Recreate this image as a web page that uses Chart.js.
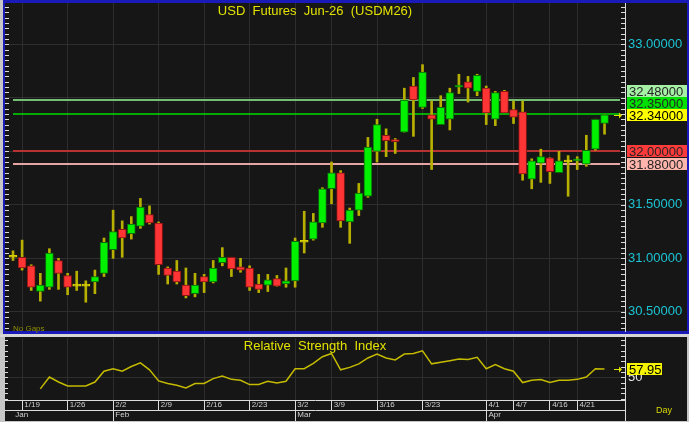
<!DOCTYPE html>
<html>
<head>
<meta charset="utf-8">
<script src="https://cdn.jsdelivr.net/npm/chart.js@4.4.1/dist/chart.umd.min.js"></script>
<style>
  html, body { margin: 0; padding: 0; background: #c6c6c6; }
  #wrap { position: relative; width: 689px; height: 422px; overflow: hidden; }
  #price { position: absolute; left: 0; top: 0; }
  #rsi { position: absolute; left: 0; top: 337px; }
</style>
</head>
<body>
<div id="wrap">
  <canvas id="price" width="689" height="337"></canvas>
  <canvas id="rsi" width="689" height="85"></canvas>
</div>
<script>
// one label per trading bar
const dates = [
  "1/16",
  "1/19", "1/20", "1/21", "1/22", "1/23",
  "1/26", "1/27", "1/28", "1/29", "1/30",
  "2/2", "2/3", "2/4", "2/5", "2/6",
  "2/9", "2/10", "2/11", "2/12", "2/13",
  "2/16", "2/17", "2/18", "2/19", "2/20",
  "2/23", "2/24", "2/25", "2/26", "2/27",
  "3/2", "3/3", "3/4", "3/5",
  "3/9", "3/10", "3/11", "3/12", "3/13",
  "3/16", "3/17", "3/18", "3/19", "3/20",
  "3/23", "3/24", "3/25", "3/26", "3/27", "3/30", "3/31",
  "4/1", "4/2", "4/6",
  "4/7", "4/8", "4/9", "4/10",
  "4/16", "4/17", "4/20",
  "4/21", "4/22", "4/23", "4/24",
];

const opens = [
  31.01, 31.01, 30.93, 30.69, 30.73, 30.98, 30.84, 30.74, 30.74, 30.78,
  30.86, 31.08, 31.27, 31.23, 31.30, 31.41, 31.33, 30.91, 30.88, 30.75,
  30.67, 30.83, 30.78, 30.96, 31.01, 30.92, 30.91, 30.76, 30.75, 30.81,
  30.76, 30.79, 31.15, 31.18, 31.33, 31.65, 31.80, 31.34, 31.45, 31.58,
  32.00, 32.15, 32.11, 32.18, 32.61, 32.41, 32.34, 32.25, 32.30, 32.60,
  32.65, 32.56, 32.59, 32.30, 32.56, 32.39, 32.37, 31.74, 31.89, 31.94,
  31.80, 31.90, 31.91, 31.88, 32.02, 32.26,
];

const highs = [
  31.07, 31.17, 30.94, 30.86, 31.09, 31.00, 30.86, 30.88, 30.79, 30.89,
  31.19, 31.45, 31.35, 31.39, 31.56, 31.49, 31.34, 30.92, 30.98, 30.91,
  30.86, 30.85, 30.98, 31.10, 31.01, 31.00, 30.93, 30.85, 30.85, 30.84,
  30.91, 31.19, 31.44, 31.42, 31.66, 31.90, 31.82, 31.47, 31.70, 32.13,
  32.30, 32.21, 32.12, 32.59, 32.69, 32.81, 32.47, 32.52, 32.59, 32.72,
  32.70, 32.72, 32.61, 32.56, 32.57, 32.47, 32.47, 31.93, 32.02, 31.94,
  32.00, 31.96, 31.95, 32.15, 32.30, 32.34,
];

const lows = [
  30.98, 30.89, 30.70, 30.60, 30.71, 30.71, 30.66, 30.70, 30.59, 30.67,
  30.83, 31.00, 31.01, 31.18, 31.28, 31.32, 30.85, 30.76, 30.76, 30.63,
  30.64, 30.68, 30.77, 30.93, 30.83, 30.87, 30.70, 30.68, 30.69, 30.74,
  30.73, 30.73, 31.05, 31.17, 31.29, 31.51, 31.29, 31.14, 31.40, 31.57,
  31.90, 31.95, 31.98, 32.18, 32.14, 32.40, 31.83, 32.25, 32.20, 32.54,
  32.46, 32.52, 32.25, 32.24, 32.36, 32.26, 31.73, 31.65, 31.71, 31.70,
  31.80, 31.58, 31.83, 31.86, 32.01, 32.16,
];

const closes = [
  31.01, 30.91, 30.73, 30.75, 31.05, 30.86, 30.73, 30.74, 30.74, 30.83,
  31.15, 31.25, 31.19, 31.32, 31.48, 31.33, 30.94, 30.84, 30.78, 30.65,
  30.75, 30.78, 30.91, 31.01, 30.90, 30.89, 30.73, 30.71, 30.80, 30.74,
  30.79, 31.16, 31.15, 31.34, 31.65, 31.80, 31.35, 31.45, 31.61, 32.04,
  32.25, 32.10, 32.09, 32.48, 32.48, 32.74, 32.30, 32.41, 32.55, 32.62,
  32.59, 32.71, 32.36, 32.55, 32.36, 32.32, 31.79, 31.91, 31.95, 31.81,
  31.91, 31.90, 31.92, 32.01, 32.30, 32.34,
];

const rsi = [
  null, null, null, 39.2, 50.3, 45.6, 41.9, 41.9, 41.9, 45.6,
  55.8, 58.1, 55.8, 60.2, 63.6, 57.1, 46.6, 44.2, 42.6, 40.1,
  44.2, 44.2, 48.8, 51.2, 48.1, 47.2, 43.2, 43.2, 46.3, 44.7,
  46.3, 58.1, 58.1, 63.2, 69.4, 72.5, 57.1, 59.4, 62.7, 68.2,
  71.9, 68.2, 66.4, 71.9, 72.5, 75.0, 62.7, 64.2, 65.7, 67.3,
  66.7, 68.8, 58.1, 62.0, 58.1, 55.8, 45.1, 47.2, 47.9, 45.1,
  47.2, 47.2, 48.1, 50.3, 58.1, 57.95,
];

const dateTicks = ["1/19", "1/26", "2/2", "2/9", "2/16", "2/23", "3/2", "3/9", "3/16", "3/23", "4/1", "4/7", "4/16", "4/21"];
const monthNames = ["Jan", "Feb", "Mar", "Apr"];
const monthStarts = ["1/16", "2/2", "3/2", "4/1"];
const priceTicks = [30.5, 31.0, 31.5, 32.0, 32.5, 33.0];
const levels = [32.48, 32.35, 32.0, 31.88];
const rsiTicks = [50];

const titulo = "USD  Futures  Jun-26  (USDM26)";
const tituloRsi = "Relative  Strength  Index";

// estilos
const verde = "#00f000";
const rojo = "#ff3434";
const mecha = "#b8b000";
const amarillo = "#e2e200";
const fondo = "#161616";
const rejilla = "#2e2e2e";
const blanco = "#dcdcdc";
const lineaNivel = ["#74bd74", "#00dd00", "#b83232", "#e6a4a4"];
const cajaNivel = ["#a6f0a6", "#00e000", "#ff3a3a", "#ffb4ac"];
const fuente = '"Liberation Sans", Arial, sans-serif';

const xMin = -0.88;
const xMax = 67.25;

const tickIdx = dateTicks.map((d) => dates.indexOf(d));
const monthIdx = monthStarts.map((d) => dates.indexOf(d));
const ultimo = closes[closes.length - 1];

function colorVela(i) {
  if (closes[i] > opens[i]) return verde;
  if (closes[i] < opens[i]) return rojo;
  return "#d8d000";
}

function bordeVela(i) {
  if (closes[i] > opens[i]) return "#0a6a0a";
  if (closes[i] < opens[i]) return "#8a1414";
  return "#d8d000";
}

// sin relleno extra de las etiquetas
function sinRelleno(s) {
  s.paddingTop = 0;
  s.paddingBottom = 0;
  s.paddingLeft = 0;
  s.paddingRight = 0;
}

function ticksMenores(ctx, scale, paso, x1, x2) {
  ctx.strokeStyle = blanco;
  ctx.lineWidth = 1;
  let v = Math.ceil(scale.min / paso) * paso;
  for (; v <= scale.max + 1e-9; v += paso) {
    let y = Math.round(scale.getPixelForValue(v)) + 0.5;
    ctx.beginPath();
    ctx.moveTo(x1, y);
    ctx.lineTo(x2, y);
    ctx.stroke();
  }
}

function flecha(ctx, x, y) {
  ctx.strokeStyle = amarillo;
  ctx.fillStyle = amarillo;
  ctx.lineWidth = 1;
  ctx.beginPath();
  ctx.moveTo(x - 6, y + 0.5);
  ctx.lineTo(x, y + 0.5);
  ctx.stroke();
  ctx.beginPath();
  ctx.moveTo(x + 2, y + 0.5);
  ctx.lineTo(x - 1, y - 2.5);
  ctx.lineTo(x - 1, y + 3.5);
  ctx.closePath();
  ctx.fill();
}

function caja(ctx, texto, x, y, w, h, bg, color) {
  ctx.fillStyle = bg;
  ctx.fillRect(x, Math.round(y - h / 2), w, h);
  ctx.fillStyle = color;
  ctx.textAlign = "left";
  ctx.textBaseline = "middle";
  ctx.fillText(texto, x + 2, Math.round(y) + 1);
}

const marcoPrecio = {
  id: "marcoPrecio",
  beforeDraw(chart) {
    const ctx = chart.ctx;
    ctx.save();
    ctx.fillStyle = "#c6c6c6";
    ctx.fillRect(0, 0, chart.width, chart.height);
    ctx.fillStyle = "#d6d6d6";
    ctx.fillRect(0, 334, chart.width, 3);
    ctx.fillStyle = "#1a1ab8";
    ctx.fillRect(3, 0, 686, 334);
    ctx.fillStyle = fondo;
    ctx.fillRect(5, 3, 682, 328);
    ctx.restore();
  },
  beforeDatasetsDraw(chart) {
    const ctx = chart.ctx;
    const x = chart.scales.x;
    const y = chart.scales.y;
    const a = chart.chartArea;
    ctx.save();
    let x0 = x.getPixelForValue(0);
    levels.forEach((v, k) => {
      let py = Math.round(y.getPixelForValue(v));
      ctx.strokeStyle = lineaNivel[k];
      ctx.lineWidth = k === 1 ? 1.5 : 2;
      ctx.beginPath();
      ctx.moveTo(x0, py);
      ctx.lineTo(a.right - 5, py);
      ctx.stroke();
    });
    ctx.restore();
  },
  afterDraw(chart) {
    const ctx = chart.ctx;
    const y = chart.scales.y;
    const a = chart.chartArea;
    ctx.save();

    ticksMenores(ctx, y, 0.05, a.left, a.left + 4);
    ticksMenores(ctx, y, 0.05, a.right - 4, a.right);

    ctx.font = "13px " + fuente;
    ctx.fillStyle = amarillo;
    ctx.textAlign = "center";
    ctx.textBaseline = "middle";
    ctx.fillText(titulo, (a.left + a.right) / 2, 11);

    ctx.font = "8px " + fuente;
    ctx.fillStyle = "#8e8e00";
    ctx.textAlign = "left";
    ctx.fillText("No Gaps", 13, 329);

    // cajas de la escala, apiladas alrededor del ultimo precio
    let items = levels.map((v, k) => ({ v: v, bg: cajaNivel[k], ultimo: false }));
    items.push({ v: ultimo, bg: "#ffff00", ultimo: true });
    items.sort((p, q) => q.v - p.v);
    items.forEach((it) => (it.py = y.getPixelForValue(it.v)));
    let h = 12;
    let k = items.findIndex((it) => it.ultimo);
    for (let j = k - 1; j >= 0; j--) {
      items[j].py = Math.min(items[j].py, items[j + 1].py - h);
    }
    for (let j = k + 1; j < items.length; j++) {
      items[j].py = Math.max(items[j].py, items[j - 1].py + h);
    }
    ctx.font = "13px " + fuente;
    items.forEach((it) => {
      caja(ctx, it.v.toFixed(5), 627, it.py, 60, h, it.bg, it.ultimo ? "#000000" : "#262626");
    });

    flecha(ctx, a.right - 5, Math.round(y.getPixelForValue(ultimo)));
    ctx.restore();
  },
};

new Chart(document.getElementById("price"), {
  type: "bar",
  data: {
    datasets: [
      {
        label: "cuerpo",
        data: opens.map((o, i) => ({ x: i, y: [o, closes[i]] })),
        backgroundColor: opens.map((o, i) => colorVela(i)),
        borderColor: opens.map((o, i) => bordeVela(i)),
        borderWidth: 1,
        borderSkipped: false,
        barThickness: 8,
        minBarLength: 2,
        grouped: false,
        order: 0,
      },
      {
        label: "mecha",
        data: lows.map((l, i) => ({ x: i, y: [l, highs[i]] })),
        backgroundColor: mecha,
        borderWidth: 0,
        barThickness: 2,
        grouped: false,
        order: 1,
      },
    ],
  },
  options: {
    responsive: false,
    animation: false,
    events: [],
    layout: { padding: { left: 5, top: 3, right: 0, bottom: 6 } },
    plugins: { legend: { display: false }, tooltip: { enabled: false } },
    scales: {
      x: {
        type: "linear",
        min: xMin,
        max: xMax,
        offset: false,
        afterBuildTicks: (s) => {
          s.ticks = tickIdx.map((v) => ({ value: v }));
        },
        afterFit: (s) => {
          s.height = 0;
          sinRelleno(s);
        },
        ticks: { display: false },
        grid: { color: rejilla, drawTicks: false, offset: false },
        border: { display: false },
      },
      y: {
        position: "right",
        min: 30.321,
        max: 33.386,
        afterBuildTicks: (s) => {
          s.ticks = priceTicks.map((v) => ({ value: v }));
        },
        afterFit: (s) => {
          s.width = 64;
          sinRelleno(s);
        },
        ticks: {
          color: "#1cc4d4",
          font: { size: 13, family: fuente },
          padding: 3,
          callback: (v) => (levels.some((l) => Math.abs(l - v) < 0.06) ? "" : Number(v).toFixed(5)),
        },
        grid: { color: rejilla, drawTicks: false },
        border: { display: true, color: blanco },
      },
    },
  },
  plugins: [marcoPrecio],
});

const marcoRsi = {
  id: "marcoRsi",
  beforeDraw(chart) {
    const ctx = chart.ctx;
    ctx.save();
    ctx.fillStyle = "#c6c6c6";
    ctx.fillRect(0, 0, chart.width, chart.height);
    ctx.fillStyle = fondo;
    ctx.fillRect(5, 0, 682, 84);
    ctx.restore();
  },
  afterDraw(chart) {
    const ctx = chart.ctx;
    const y = chart.scales.y;
    const a = chart.chartArea;
    ctx.save();

    ticksMenores(ctx, y, 5, a.left, a.left + 3);
    ticksMenores(ctx, y, 5, a.right - 4, a.right);

    ctx.strokeStyle = blanco;
    ctx.beginPath();
    ctx.moveTo(a.right + 0.5, 0);
    ctx.lineTo(a.right + 0.5, 84);
    ctx.stroke();

    ctx.font = "13px " + fuente;
    ctx.fillStyle = amarillo;
    ctx.textAlign = "center";
    ctx.textBaseline = "middle";
    ctx.fillText(tituloRsi, (a.left + a.right) / 2, 9);

    let ult = rsi[rsi.length - 1];
    let py = y.getPixelForValue(ult);
    caja(ctx, ult.toFixed(2), 627, py, 35, 12, "#f4f400", "#000000");
    flecha(ctx, a.right - 5, Math.round(py));

    ctx.font = "9px " + fuente;
    ctx.fillStyle = "#d8d800";
    ctx.textAlign = "left";
    ctx.fillText("Day", 656, 74);
    ctx.restore();
  },
};

new Chart(document.getElementById("rsi"), {
  type: "line",
  data: {
    datasets: [
      {
        label: "RSI",
        data: rsi.map((v, i) => ({ x: i, y: v })),
        borderColor: "#c4ba00",
        borderWidth: 1.5,
        pointRadius: 0,
        tension: 0,
        spanGaps: false,
      },
    ],
  },
  options: {
    responsive: false,
    animation: false,
    events: [],
    layout: { padding: { left: 5, top: 1, right: 0, bottom: 1 } },
    plugins: { legend: { display: false }, tooltip: { enabled: false } },
    scales: {
      x: {
        type: "linear",
        position: "bottom",
        min: xMin,
        max: xMax,
        afterBuildTicks: (s) => {
          s.ticks = tickIdx.map((v) => ({ value: v }));
        },
        afterFit: (s) => {
          s.height = 10;
          sinRelleno(s);
        },
        ticks: {
          color: "#d0d0d0",
          font: { size: 8, family: fuente },
          align: "start",
          padding: -10,
          maxRotation: 0,
          minRotation: 0,
          autoSkip: false,
          callback: (v) => " " + dates[v],
        },
        grid: { color: rejilla, drawTicks: true, tickLength: 10, tickColor: blanco },
        border: { display: true, color: blanco },
      },
      x2: {
        type: "linear",
        position: "bottom",
        min: xMin,
        max: xMax,
        afterBuildTicks: (s) => {
          s.ticks = monthIdx.map((v) => ({ value: v }));
        },
        afterFit: (s) => {
          s.height = 11;
          sinRelleno(s);
        },
        ticks: {
          color: "#d0d0d0",
          font: { size: 8, family: fuente },
          align: "start",
          padding: -11,
          maxRotation: 0,
          minRotation: 0,
          autoSkip: false,
          callback: (v) => " " + monthNames[monthIdx.indexOf(v)],
        },
        grid: {
          drawOnChartArea: false,
          drawTicks: true,
          tickLength: 11,
          tickColor: (c) => (c.index === 0 ? "rgba(0,0,0,0)" : blanco),
        },
        border: { display: true, color: blanco },
      },
      y: {
        position: "right",
        min: 28.7,
        max: 87,
        afterBuildTicks: (s) => {
          s.ticks = rsiTicks.map((v) => ({ value: v }));
        },
        afterFit: (s) => {
          s.width = 64;
          sinRelleno(s);
        },
        ticks: { color: "#e6e6e6", font: { size: 13, family: fuente }, padding: 3 },
        grid: { color: rejilla, drawTicks: false },
        border: { display: true, color: blanco },
      },
    },
  },
  plugins: [marcoRsi],
});
</script>
</body>
</html>
